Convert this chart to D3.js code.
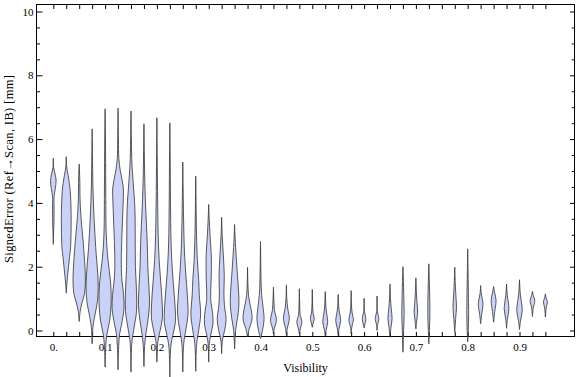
<!DOCTYPE html>
<html><head><meta charset="utf-8">
<script src="https://cdn.jsdelivr.net/npm/d3@7"></script>
<style>
body{margin:0;background:#fff}
svg{display:block}
text{font-family:"Liberation Serif","Times New Roman",serif;fill:#000}
</style>
</head><body>
<svg id="chart" width="576" height="377"></svg>
<script>
// ---- data ----
const visibility = [0,0.025,0.05,0.075,0.1,0.125,0.15,0.175,0.2,0.225,0.25,0.275,0.3,0.325,0.35,0.375,0.4,0.425,0.45,0.475,0.5,0.525,0.55,0.575,0.6,0.625,0.65,0.675,0.7,0.725,0.75,0.775,0.8,0.825,0.85,0.875,0.9,0.925,0.95];
const xTickValues = [0,0.1,0.2,0.3,0.4,0.5,0.6,0.7,0.8,0.9];
const xTickLabels = ["0.","0.1","0.2","0.3","0.4","0.5","0.6","0.7","0.8","0.9"];
const yTickValues = [0,2,4,6,8,10];
const yTickLabels = ["0","2","4","6","8","10"];
const yMinorValues = [0.5,1,1.5,2.5,3,3.5,4.5,5,5.5,6.5,7,7.5,8.5,9,9.5];
const xLabel = "Visibility";
const yLabel = "SignedError (Ref\u2192Scan, IB) [mm]";
// density profiles of signed error per visibility bin: [error (mm), relative density]
const profiles = [
 [[5.40,0],[5.10,0.06],[4.90,0.28],[4.70,0.43],[4.45,0.31],[4.20,0.12],[3.80,0.12],[3.30,0.09],[3.00,0.03],[2.70,0]],
 [[5.45,0],[5.15,0.05],[4.85,0.3],[4.4,0.6],[3.6,0.75],[2.6,0.66],[2.3,0.5],[2.0,0.35],[1.7,0.2],[1.4,0.07],[1.17,0]],
 [[5.22,0],[4.8,0.08],[4.0,0.15],[3.5,0.3],[2.8,0.6],[2.2,0.82],[1.65,0.95],[1.2,0.85],[0.8,0.35],[0.6,0.15],[0.28,0]],
 [[6.32,0],[5.5,0.05],[4.5,0.12],[3.5,0.3],[2.6,0.55],[1.8,0.85],[1.35,0.93],[0.9,0.8],[0.4,0.35],[0.1,0.12],[-0.42,0]],
 [[6.95,0],[6.0,0.06],[4.5,0.1],[3.0,0.18],[2.2,0.45],[1.5,0.85],[0.85,0.93],[0.3,0.7],[-0.1,0.3],[-0.5,0.1],[-1.15,0]],
 [[6.97,0],[6.0,0.06],[5.4,0.12],[5.0,0.35],[4.5,0.8],[3.8,0.75],[3.0,0.6],[2.2,0.5],[1.7,0.55],[1.1,0.85],[0.7,0.92],[0.2,0.55],[-0.1,0.25],[-0.5,0.1],[-1.23,0]],
 [[6.88,0],[6.0,0.06],[5.2,0.15],[4.6,0.35],[3.8,0.6],[2.8,0.65],[2.0,0.68],[1.2,0.85],[0.6,0.85],[0.0,0.4],[-0.4,0.12],[-1.3,0]],
 [[6.48,0],[5.5,0.06],[4.5,0.15],[3.7,0.3],[2.8,0.5],[2.0,0.6],[1.3,0.78],[0.8,0.85],[0.3,0.6],[-0.1,0.3],[-0.5,0.1],[-1.13,0]],
 [[6.67,0],[5.5,0.05],[4.0,0.12],[3.0,0.2],[2.2,0.35],[1.5,0.6],[0.9,0.8],[0.4,0.85],[0.0,0.5],[-0.35,0.15],[-0.99,0]],
 [[6.51,0],[5.5,0.05],[4.0,0.1],[2.8,0.18],[2.0,0.35],[1.3,0.6],[0.7,0.82],[0.25,0.85],[-0.15,0.45],[-0.5,0.15],[-1.46,0]],
 [[5.28,0],[4.5,0.05],[3.5,0.12],[2.5,0.25],[1.8,0.45],[1.1,0.7],[0.5,0.8],[0.0,0.45],[-0.4,0.15],[-1.3,0]],
 [[4.84,0],[4.0,0.05],[3.0,0.12],[2.2,0.25],[1.6,0.45],[1.1,0.55],[0.5,0.75],[0.0,0.45],[-0.4,0.15],[-1.28,0]],
 [[3.95,0],[3.5,0.08],[3.0,0.2],[2.3,0.4],[1.6,0.38],[1.0,0.3],[0.5,0.62],[0.2,0.65],[-0.1,0.35],[-0.4,0.1],[-0.99,0]],
 [[3.55,0],[3.0,0.08],[2.4,0.25],[1.7,0.4],[1.2,0.35],[0.8,0.42],[0.35,0.68],[0.0,0.45],[-0.3,0.12],[-0.73,0]],
 [[3.32,0],[2.9,0.08],[2.3,0.25],[1.7,0.45],[1.2,0.62],[0.8,0.66],[0.4,0.45],[0.0,0.15],[-0.58,0]],
 [[1.98,0],[1.5,0.05],[1.1,0.15],[0.8,0.4],[0.5,0.68],[0.3,0.65],[0.05,0.25],[-0.2,0]],
 [[2.79,0],[2.0,0.05],[1.2,0.15],[0.8,0.35],[0.35,0.55],[0.0,0.3],[-0.25,0]],
 [[1.36,0],[1.0,0.06],[0.65,0.15],[0.32,0.45],[0.05,0.12],[-0.1,0]],
 [[1.43,0],[1.0,0.06],[0.7,0.2],[0.37,0.45],[0.05,0.12],[-0.16,0]],
 [[1.31,0],[0.8,0.05],[0.5,0.12],[0.27,0.38],[0.05,0.15],[-0.1,0]],
 [[1.29,0],[0.8,0.05],[0.55,0.12],[0.37,0.3],[0.2,0.1],[0.1,0]],
 [[1.22,0],[0.8,0.08],[0.55,0.2],[0.27,0.38],[0.0,0.12],[-0.16,0]],
 [[1.13,0],[0.75,0.08],[0.55,0.2],[0.31,0.38],[0.05,0.12],[-0.16,0]],
 [[1.25,0],[0.8,0.05],[0.55,0.15],[0.34,0.35],[0.1,0.1],[-0.1,0]],
 [[1.01,0],[0.6,0.05],[0.47,0.2],[0.34,0.27],[0.22,0.15],[0.08,0]],
 [[1.08,0],[0.6,0.05],[0.47,0.2],[0.34,0.27],[0.22,0.12],[0.0,0]],
 [[1.46,0],[1.0,0.08],[0.7,0.18],[0.37,0.32],[0.1,0.15],[-0.21,0]],
 [[2.0,0],[1.5,0.08],[0.9,0.15],[0.5,0.18],[0.0,0.1],[-0.68,0]],
 [[1.65,0],[1.2,0.08],[0.85,0.18],[0.57,0.27],[0.3,0.12],[0.05,0]],
 [[2.09,0],[1.5,0.08],[0.9,0.15],[0.4,0.15],[0.0,0.08],[-0.42,0]],
 null,
 [[1.98,0],[1.5,0.08],[1.0,0.2],[0.73,0.27],[0.4,0.15],[-0.05,0]],
 [[2.56,0],[1.8,0.06],[1.0,0.12],[0.5,0.14],[0.0,0.08],[-0.35,0]],
 [[1.41,0],[1.15,0.1],[0.84,0.36],[0.5,0.15],[0.21,0]],
 [[1.38,0],[1.2,0.15],[0.94,0.38],[0.6,0.18],[0.26,0]],
 [[1.46,0],[1.1,0.12],[0.68,0.36],[0.35,0.12],[0.07,0]],
 [[1.59,0],[1.15,0.12],[0.63,0.42],[0.3,0.15],[0.03,0]],
 [[1.23,0],[1.1,0.12],[0.94,0.36],[0.7,0.12],[0.44,0]],
 [[1.15,0],[1.02,0.12],[0.91,0.3],[0.7,0.12],[0.42,0]]
];

// ---- layout ----
const L = 36.5, R = 574.5, T = 4.5, B = 336.5;
const svg = d3.select("#chart");
const x = d3.scaleLinear().domain([0, 1]).range([53.3, 571.3]);
const y = d3.scaleLinear().domain([0, 10]).range([330.5, 11.5]);
const w = d3.scaleLinear().domain([0, 1]).range([0, 6.5]);

const fontTick = 11;

// frame
svg.append("rect").attr("x", L).attr("y", T).attr("width", R - L).attr("height", B - T)
  .attr("fill", "none").attr("stroke", "#000").attr("stroke-width", 1);

function styleAxis(g){
  g.select(".domain").remove();
  g.selectAll("line").attr("stroke", "#000").attr("stroke-width", 1);
  g.selectAll("text").attr("font-size", fontTick).attr("fill", "#000")
   .attr("font-family", '"Liberation Serif","Times New Roman",serif');
}
// bottom axis
svg.append("g").attr("transform", `translate(0,${B})`)
  .call(d3.axisBottom(x).tickValues(visibility).tickSize(-4.5).tickFormat(""))
  .call(styleAxis);
svg.append("g").attr("transform", `translate(0,${B})`)
  .call(d3.axisBottom(x).tickValues(xTickValues).tickSize(0).tickPadding(7)
        .tickFormat((d, i) => xTickLabels[i]))
  .call(styleAxis);
// top axis
svg.append("g").attr("transform", `translate(0,${T})`)
  .call(d3.axisTop(x).tickValues(visibility).tickSize(-4.5).tickFormat(""))
  .call(styleAxis);
// left axis
svg.append("g").attr("transform", `translate(${L},0)`)
  .call(d3.axisLeft(y).tickValues(yTickValues).tickSize(-6).tickPadding(3)
        .tickFormat((d, i) => yTickLabels[i]))
  .call(styleAxis);
svg.append("g").attr("transform", `translate(${L},0)`)
  .call(d3.axisLeft(y).tickValues(yMinorValues).tickSize(-3.5).tickFormat(""))
  .call(styleAxis);
// right axis
svg.append("g").attr("transform", `translate(${R},0)`)
  .call(d3.axisRight(y).tickValues(yTickValues).tickSize(-4.5).tickFormat(""))
  .call(styleAxis);
svg.append("g").attr("transform", `translate(${R},0)`)
  .call(d3.axisRight(y).tickValues(yMinorValues).tickSize(-2.7).tickFormat(""))
  .call(styleAxis);

// axis labels
svg.append("text").attr("x", (L + R) / 2).attr("y", 372).attr("text-anchor", "middle")
  .attr("font-size", 12).text(xLabel);
svg.append("text").attr("transform", `translate(12.5,169) rotate(-90)`)
  .attr("text-anchor", "middle").attr("font-size", 12.5)
  .attr("textLength", 188).attr("lengthAdjust", "spacing").text(yLabel);

// violins
const gV = svg.append("g");
visibility.forEach((c, i) => {
  const p = profiles[i];
  if (!p) return;
  const area = d3.area()
    .y(d => y(d[0]))
    .x0(d => x(c) - w(d[1]))
    .x1(d => x(c) + w(d[1]))
    .curve(d3.curveCatmullRom.alpha(0.5));
  gV.append("path").attr("d", area(p))
    .attr("fill", "#cbd2f7")
    .attr("stroke", "#333").attr("stroke-opacity", 0.8).attr("stroke-width", 1);
});
</script>
</body></html>
